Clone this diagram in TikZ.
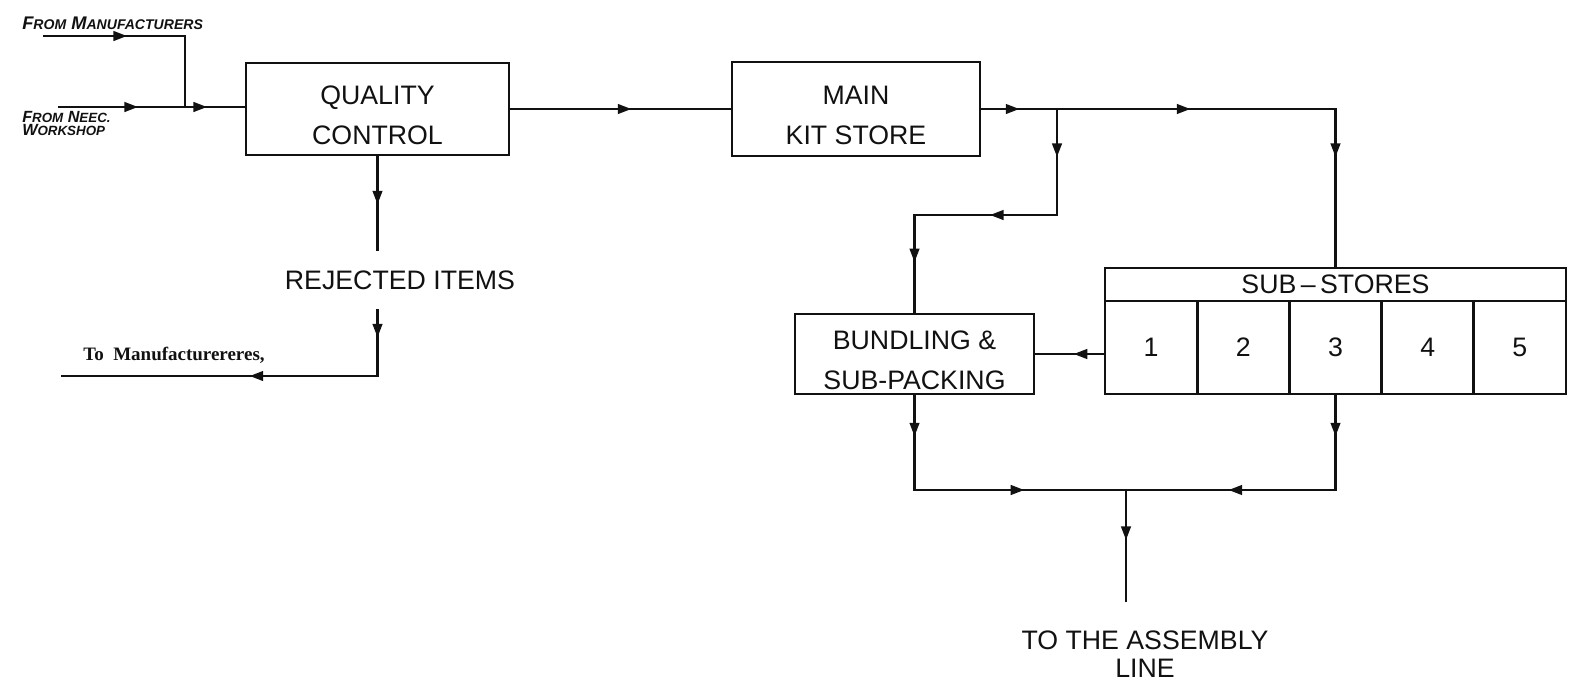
\documentclass[tikz,border=0pt]{standalone}
\usepackage{fontspec}
\setmainfont{Liberation Sans}
\newfontfamily\printfont{Liberation Serif}
\usetikzlibrary{arrows.meta,decorations.markings}
\definecolor{ink}{HTML}{111111}
\newcommand{\lettr}[1]{{\fontsize{10}{10}\selectfont #1}}
\newcommand{\lettrsm}[1]{{\fontsize{9.5}{9.5}\selectfont #1}}

\begin{document}
\begin{tikzpicture}[x=0.025cm, y=-0.025cm,
    every node/.style={text=ink},
    blk/.style={draw=ink, line width=1.9pt, align=center, inner sep=0pt,
                font=\fontsize{19}{28}\selectfont, text height=50pt},
    cell/.style={draw=ink, line width=1.9pt, inner sep=0pt,
                 font=\fontsize{19}{22}\selectfont},
    lbl/.style={align=center, font=\fontsize{19}{20}\selectfont},
    hand/.style={align=left, inner sep=0pt, font=\bfseries\itshape\fontsize{13}{10}\selectfont},
    handsm/.style={hand, font=\bfseries\itshape\fontsize{11.5}{9.5}\selectfont},
    wire/.style={draw=ink, line width=1.7pt, line join=miter},
    arrowat/.style={postaction={decorate, decoration={markings,
                    mark=at position #1 with {\arrow{Triangle[length=3.4mm, width=2.4mm]}}}}},
  ]
  \useasboundingbox (0,0) rectangle (1580,685);

  % the store blocks
  \node[blk, minimum width=6.575cm, minimum height=2.3cm] (qc) at (377.5,109) {QUALITY\\CONTROL};
  \node[blk, minimum width=6.2cm, minimum height=2.35cm] (mks) at (856,109) {MAIN\\KIT STORE};
  \node[blk, minimum width=5.975cm, minimum height=2cm] (bund) at (914.5,354) {BUNDLING \&\\SUB-PACKING};

  % sub-stores rack
  \node[cell, minimum width=11.525cm, minimum height=0.825cm] (sshd) at (1335.5,284.5) {SUB\,--\,STORES};
  \foreach \i in {1,...,5}
    \node[cell, minimum width=2.305cm, minimum height=2.325cm] (ss\i) at ({1105+92.2*(\i-0.5)},347.5) {\i};

  % labels
  \node[hand, anchor=west] (frommfr) at (22,23) {F\lettr{ROM} M\lettr{ANUFACTURERS}};
  \node[handsm, anchor=north west] (fromneec) at (22,111) {F\lettrsm{ROM} N\lettrsm{EEC.}\\W\lettrsm{ORKSHOP}};
  \node[lbl, inner ysep=14pt] (rej) at (400,280) {REJECTED ITEMS};
  \node[inner sep=0pt, font=\printfont\bfseries\fontsize{13.5}{15}\selectfont] (tomfr) at (174,355) {To\ \ Manufacturereres,};
  \node[lbl, anchor=north, inner ysep=20pt] (asm) at (1145,602) {TO THE ASSEMBLY\\LINE};

  % incoming supplies
  \coordinate (mfrin) at (43,36);
  \coordinate (join) at (185,107);
  \coordinate (neecin) at (58,107);
  \draw[wire, arrowat=2.1cm] (mfrin) -| (join);
  \draw[wire, arrowat=2cm, arrowat=3.725cm] (neecin) -- (neecin -| qc.west);

  % rejected items go back
  \coordinate (retout) at (61,376);
  \draw[wire, arrowat=1.2cm] (qc.south) -- (qc.south |- rej.north);
  \draw[wire, arrowat=0.7cm, arrowat=4.86cm] (qc.south |- rej.south) |- (retout);

  % main flow
  \draw[wire, arrowat=3.025cm] (qc.east) -- (mks.west);
  \draw[wire, arrowat=0.95cm, arrowat=5.225cm, arrowat=10.05cm] (mks.east) -| (sshd.north);
  \coordinate (split) at (1057,109);
  \draw[wire, arrowat=1.2cm, arrowat=4.325cm, arrowat=7.39cm] (split) -- ++(0,106) -| (bund.north);
  \draw[wire, arrowat=0.75cm] (bund.east -| ss1.west) -- (bund.east);

  % out to the line
  \coordinate (merge) at (1126,490);
  \draw[wire, arrowat=1.025cm, arrowat=5.11cm] (bund.south) |- (merge);
  \draw[wire, arrowat=1.025cm, arrowat=5.04cm] (ss3.south) |- (merge);
  \draw[wire, arrowat=1.25cm] (merge) -- (asm.north -| merge);
\end{tikzpicture}
\end{document}
